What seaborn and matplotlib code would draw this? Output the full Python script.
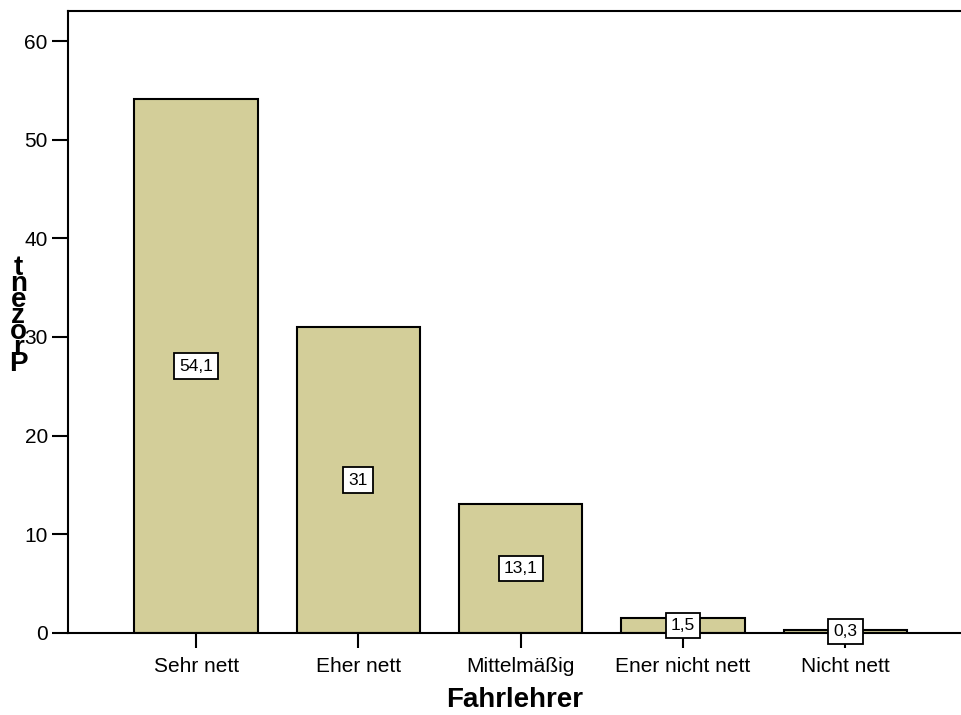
import matplotlib
matplotlib.use("Agg")
import matplotlib.pyplot as plt
import seaborn as sns
import pandas as pd

categories = ["Sehr nett", "Eher nett", "Mittelmäßig", "Ener nicht nett", "Nicht nett"]
percent = [54.1, 31.0, 13.1, 1.5, 0.3]
yticks = [0, 10, 20, 30, 40, 50, 60]

df = pd.DataFrame({"Fahrlehrer": categories, "Prozent": percent})

sns.set_style("white")
plt.rcParams["font.family"] = ["Liberation Sans", "DejaVu Sans"]
for k in ["text.color", "axes.labelcolor", "xtick.color", "ytick.color", "axes.edgecolor"]:
    plt.rcParams[k] = "black"

fig = plt.figure(figsize=(9.62, 7.15), dpi=100)
ax = fig.add_axes([0.0707, 0.1147, 0.9293, 0.8699])

sns.barplot(data=df, x="Fahrlehrer", y="Prozent", color="#d3ce99",
            edgecolor="black", linewidth=1.5, width=0.76, saturation=1, ax=ax)

ax.set_xlim(-0.789, 4.719)
ax.set_ylim(0, 63.04)
ax.set_yticks(yticks)
ax.set_yticklabels([str(t) for t in yticks])

for sp in ["left", "top", "bottom"]:
    ax.spines[sp].set_visible(True)
    ax.spines[sp].set_linewidth(1.5)
    ax.spines[sp].set_color("black")
ax.spines["right"].set_visible(False)

ax.tick_params(axis="y", direction="out", length=11.5, width=1.5, labelsize=15, left=True, pad=3)
ax.tick_params(axis="x", direction="out", length=11, width=1.5, labelsize=15, bottom=True, pad=6)

ax.set_xlabel("Fahrlehrer", fontsize=20, fontweight="bold", labelpad=8)
ax.set_ylabel("")

labels = [f"{v:g}".replace(".", ",") for v in percent]
ax.bar_label(ax.containers[0], labels=labels, label_type="center", fontsize=12.5,
             bbox=dict(boxstyle="square,pad=0.3", facecolor="white", edgecolor="black", linewidth=1.3))

fig.text(0.019, 0.558, "\n".join(reversed("Prozent")), fontsize=20, fontweight="bold",
         ha="center", va="center", linespacing=0.5)

fig.savefig("out.png", dpi=100)
